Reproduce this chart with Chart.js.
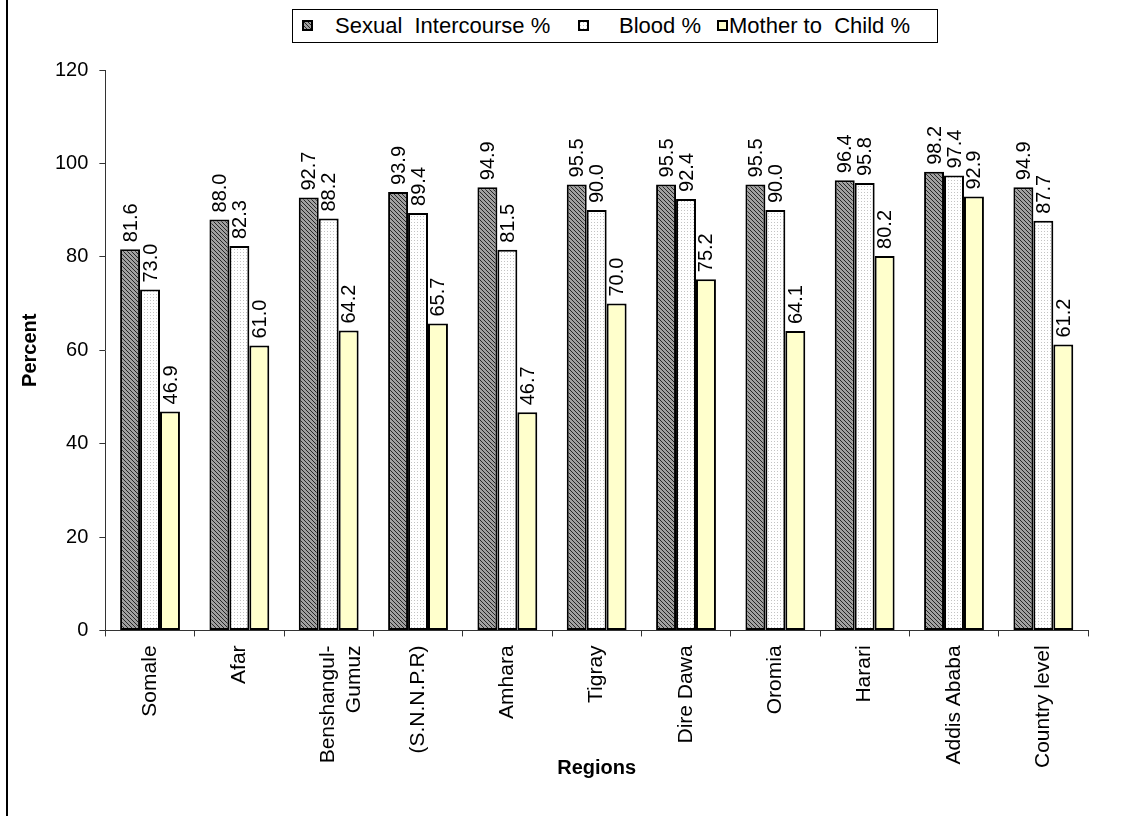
<!DOCTYPE html>
<html>
<head>
  <meta charset="utf-8">
  <title>Modes of HIV transmission by region</title>
  <script src="https://cdn.jsdelivr.net/npm/chart.js"></script>
  <style>
    body { margin: 0; background: #fff; font-family: 'Liberation Sans', Arial, sans-serif; }
    .wrap { position: relative; width: 1143px; height: 816px; }
    canvas { position: absolute; left: 0; top: 0; }
    .legend { position: absolute; left: 292px; top: 9px; width: 646px; height: 34px; border: 1px solid #000; box-sizing: border-box; background: #fff; }
    .legend span { position: absolute; white-space: pre; font-size: 22px; line-height: 22px; top: 5px; color: #000; }
    .legend i { position: absolute; top: 10px; width: 11px; height: 11px; border: 2px solid #000; box-sizing: border-box; }
  </style>
</head>
<body>
  <div class="wrap">
    <canvas id="chart" width="1143" height="816"></canvas>
    <div class="legend">
      <i id="sw0" style="left:9px"></i><span style="left:42px">Sexual  Intercourse %</span>
      <i id="sw1" style="left:285px"></i><span style="left:326px">Blood %</span>
      <i id="sw2" style="left:424px"></i><span style="left:436px">Mother to  Child %</span>
    </div>
  </div>
  <script>
    // values
    const regions = ['Somale', 'Afar', ['Benshangul-', 'Gumuz'], '(S.N.N.P.R)', 'Amhara', 'Tigray',
                     'Dire Dawa', 'Oromia', 'Harari', 'Addis Ababa', 'Country level'];
    const sexualPct = [81.6, 88.0, 92.7, 93.9, 94.9, 95.5, 95.5, 95.5, 96.4, 98.2, 94.9];
    const bloodPct  = [73.0, 82.3, 88.2, 89.4, 81.5, 90.0, 92.4, 90.0, 95.8, 97.4, 87.7];
    const motherPct = [46.9, 61.0, 64.2, 65.7, 46.7, 70.0, 75.2, 64.1, 80.2, 92.9, 61.2];
    const seriesNames = ['Sexual  Intercourse %', 'Blood %', 'Mother to  Child %'];

    const FONT = "'Liberation Sans', Arial, sans-serif";

    // little tiles for the excel-ish fills
    function makeTile(size, draw) {
      const c = document.createElement('canvas');
      c.width = size; c.height = size;
      draw(c.getContext('2d'));
      return c;
    }
    const hatchTile = makeTile(4, g => {
      g.fillStyle = '#a0a0a0'; g.fillRect(0, 0, 4, 4);
      g.fillStyle = '#262626';
      for (let i = 0; i < 4; i++) g.fillRect(i, i, 1, 1);
    });
    const dotTile = makeTile(3, g => {
      g.fillStyle = '#fff'; g.fillRect(0, 0, 3, 3);
      g.fillStyle = '#c4c4c4'; g.fillRect(0, 0, 1, 1);
    });
    const ctx = document.getElementById('chart').getContext('2d');
    const fills = [ctx.createPattern(hatchTile, 'repeat'), ctx.createPattern(dotTile, 'repeat'), '#ffffcc'];

    // legend swatches use the same tiles
    document.getElementById('sw0').style.background = 'url(' + hatchTile.toDataURL() + ')';
    document.getElementById('sw1').style.background = 'url(' + dotTile.toDataURL() + ')';
    document.getElementById('sw2').style.background = '#ffffcc';

    const valueLabels = {
      id: 'valueLabels',
      afterDatasetsDraw(chart) {
        const c = chart.ctx;
        c.save();
        c.font = '20px ' + FONT;
        c.fillStyle = '#000';
        c.textAlign = 'left';
        c.textBaseline = 'middle';
        chart.data.datasets.forEach((ds, di) => {
          chart.getDatasetMeta(di).data.forEach((bar, i) => {
            c.save();
            c.translate(bar.x, bar.y - 7);
            c.rotate(-Math.PI / 2);
            c.fillText(ds.data[i].toFixed(1), 0, 1);
            c.restore();
          });
        });
        c.restore();
      }
    };

    const frameLine = {
      id: 'frameLine',
      beforeDraw(chart) {
        const c = chart.ctx;
        c.save();
        c.fillStyle = '#fff';
        c.fillRect(0, 0, chart.width, chart.height);
        c.fillStyle = '#000';
        c.fillRect(6, 0, 2, chart.height);
        c.restore();
      }
    };

    new Chart(ctx, {
      type: 'bar',
      data: {
        labels: regions,
        datasets: [sexualPct, bloodPct, motherPct].map((d, k) => ({
          label: seriesNames[k],
          data: d,
          backgroundColor: fills[k],
          borderColor: '#000',
          borderWidth: 2,
          borderSkipped: false,
          categoryPercentage: 0.67,
          barPercentage: 1
        }))
      },
      options: {
        responsive: false,
        animation: false,
        layout: { padding: { left: 14, right: 55, top: 70, bottom: 26 } },
        plugins: { legend: { display: false }, tooltip: { enabled: false } },
        scales: {
          x: {
            grid: { drawOnChartArea: false, drawTicks: true, tickLength: 6, color: '#333' },
            border: { color: '#333', width: 1 },
            ticks: { color: '#000', font: { family: FONT, size: 21 }, minRotation: 90, maxRotation: 90, autoSkip: false, padding: 9 },
            title: { display: true, text: 'Regions', color: '#000', font: { family: FONT, size: 20, weight: 'bold' }, padding: { top: -21, bottom: 10 } }
          },
          y: {
            min: 0, max: 120,
            grid: { drawOnChartArea: false, drawTicks: true, tickLength: 6, color: '#333' },
            border: { color: '#333', width: 1 },
            ticks: { stepSize: 20, color: '#000', font: { family: FONT, size: 20 }, padding: 11 },
            title: { display: true, text: 'Percent', color: '#000', font: { family: FONT, size: 20, weight: 'bold' }, padding: { top: 4, bottom: 2 } }
          }
        }
      },
      plugins: [frameLine, valueLabels]
    });
  </script>
</body>
</html>
